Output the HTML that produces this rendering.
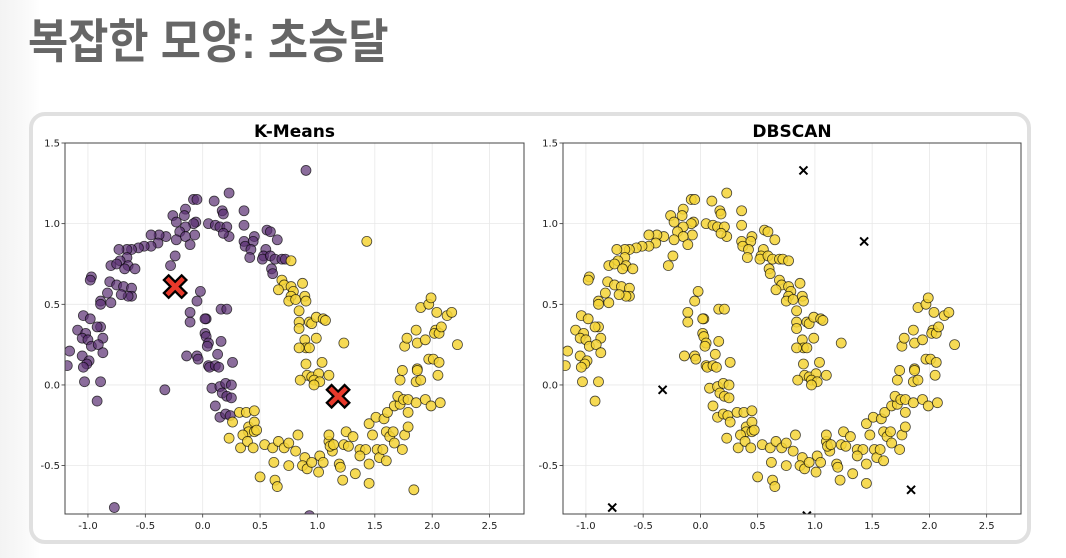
<!DOCTYPE html>
<html><head><meta charset="utf-8"><style>
html,body{margin:0;padding:0;background:#fff;}
body{width:1066px;height:558px;position:relative;overflow:hidden;background:linear-gradient(90deg,#f3f3f3 0,#fafafa 28px,#fff 40px);}
#title{position:absolute;left:28px;top:3px;font:bold 47px "Liberation Sans","Noto Sans CJK KR",sans-serif;color:#666;margin:0;white-space:nowrap;transform:scaleX(0.93);transform-origin:0 0;}
#card{position:absolute;left:29px;top:112px;width:994px;height:424px;border:4px solid #e0e0e0;border-radius:16px;background:#fff;}
svg{position:absolute;left:0;top:0;}
</style></head><body>
<h1 id="title">복잡한 모양: 초승달</h1>
<div id="card"></div>
<svg id="chart" width="1066" height="558"></svg>
<script>
const xs=[0.90,0.23,-0.08,-0.05,0.10,-0.15,-0.16,0.17,0.18,0.36,-0.26,-0.23,-0.06,-0.08,0.05,0.11,0.15,0.21,0.36,-0.15,-0.20,-0.07,-0.15,-0.23,0.23,0.18,-0.32,-0.38,-0.45,-0.11,-0.39,-0.45,-0.51,-0.56,-0.62,-0.66,-0.73,0.36,0.45,0.44,0.37,0.42,0.41,0.56,0.59,0.65,0.55,0.53,0.52,0.59,0.63,0.69,0.72,0.60,0.61,-0.24,-0.28,-0.66,-0.72,-0.80,-0.75,-0.65,-0.68,-0.59,-0.97,-0.98,-0.81,-0.75,-0.69,-0.62,-0.62,-0.65,-0.83,-0.71,-0.89,-0.89,-0.80,-1.04,-0.98,-1.09,-1.02,-1.05,-0.89,-0.92,-0.87,-1.00,-0.97,-0.91,-1.16,-1.05,-0.87,-0.99,-1.01,-1.04,-1.18,-1.03,-0.89,-0.92,-0.33,-0.77,
-0.02,-0.05,-0.11,-0.11,0.03,0.02,0.16,0.21,0.02,0.03,0.05,0.04,0.16,-0.14,-0.05,-0.04,0.13,0.05,0.06,0.11,0.14,0.26,0.08,0.15,0.20,0.25,0.17,0.21,0.25,0.11,0.15,0.20,0.24,0.93,
1.43,0.77,0.69,0.71,0.66,0.77,0.79,0.87,0.77,0.75,0.81,0.89,0.90,0.84,0.84,0.84,0.93,0.95,0.99,1.05,1.07,0.89,0.90,0.84,0.93,0.99,1.23,0.90,1.04,0.91,0.95,1.01,1.10,0.85,0.97,1.02,0.97,
0.32,0.38,0.45,0.26,0.40,0.45,0.40,0.45,0.47,0.35,0.23,0.33,0.39,0.44,0.54,0.61,0.66,0.71,0.75,0.81,0.83,0.50,0.63,0.65,0.62,0.75,0.89,0.87,0.91,0.95,1.01,1.02,1.05,1.10,1.13,1.11,1.10,1.14,1.19,1.20,1.22,1.25,1.31,1.23,1.27,1.33,1.37,1.42,1.37,1.45,1.45,1.45,1.48,1.51,1.52,1.54,1.58,1.60,1.57,1.61,1.60,1.63,1.66,1.67,1.67,1.72,1.70,1.75,1.79,1.79,1.74,1.76,1.79,1.84,1.86,1.94,1.99,2.07,
1.72,1.74,1.86,1.90,1.87,1.87,2.05,1.97,2.01,2.06,1.76,1.78,1.86,1.87,1.94,2.03,2.02,2.06,2.08,2.22,1.90,1.97,1.99,2.04,2.13,2.17];
const ys=[1.33,1.19,1.15,1.15,1.14,1.09,1.05,1.08,1.06,1.08,1.05,1.01,1.01,1.00,1.00,0.99,0.98,0.98,0.99,0.98,0.95,0.93,0.92,0.90,0.92,0.94,0.92,0.93,0.93,0.87,0.88,0.86,0.86,0.85,0.84,0.84,0.84,0.89,0.92,0.89,0.86,0.84,0.79,0.96,0.95,0.90,0.84,0.80,0.78,0.80,0.78,0.78,0.78,0.72,0.69,0.80,0.74,0.79,0.77,0.74,0.75,0.74,0.72,0.72,0.67,0.65,0.64,0.62,0.61,0.60,0.55,0.55,0.57,0.56,0.52,0.50,0.51,0.43,0.41,0.34,0.32,0.29,0.36,0.36,0.29,0.28,0.24,0.25,0.21,0.18,0.20,0.15,0.13,0.11,0.12,0.02,0.02,-0.10,-0.03,-0.76,
0.58,0.52,0.45,0.39,0.41,0.41,0.47,0.47,0.32,0.30,0.26,0.24,0.27,0.18,0.18,0.16,0.19,0.12,0.11,0.12,0.11,0.14,-0.02,-0.01,0.01,0.00,-0.05,-0.07,-0.08,-0.13,-0.20,-0.18,-0.19,-0.81,
0.89,0.77,0.65,0.62,0.59,0.61,0.58,0.63,0.55,0.52,0.53,0.55,0.52,0.46,0.39,0.35,0.39,0.38,0.42,0.41,0.40,0.28,0.23,0.23,0.23,0.29,0.26,0.13,0.14,0.06,0.05,0.07,0.06,0.03,0.03,0.02,0.00,
-0.17,-0.17,-0.16,-0.23,-0.26,-0.23,-0.29,-0.29,-0.28,-0.31,-0.33,-0.39,-0.35,-0.39,-0.37,-0.39,-0.35,-0.39,-0.36,-0.41,-0.31,-0.57,-0.59,-0.63,-0.48,-0.50,-0.45,-0.50,-0.52,-0.48,-0.54,-0.44,-0.48,-0.35,-0.41,-0.38,-0.31,-0.37,-0.49,-0.51,-0.59,-0.29,-0.32,-0.37,-0.38,-0.55,-0.40,-0.40,-0.44,-0.49,-0.61,-0.24,-0.31,-0.20,-0.40,-0.45,-0.21,-0.47,-0.40,-0.17,-0.29,-0.32,-0.29,-0.36,-0.13,-0.12,-0.07,-0.09,-0.09,-0.17,-0.40,-0.31,-0.26,-0.65,-0.11,-0.09,-0.13,-0.11,
0.03,0.09,0.02,0.03,0.10,0.09,0.06,0.16,0.16,0.14,0.24,0.29,0.34,0.26,0.28,0.34,0.32,0.32,0.36,0.25,0.48,0.50,0.54,0.45,0.43,0.45];
// k-means labels: first 134 points cluster 0 (purple), remainder cluster 1 (yellow)
const kmLabels=xs.map((_,i)=>i<134?0:1);
// DBSCAN noise point indices (drawn as black x)
const noiseIdx=[0,98,99,133,134,244];
const centX=[-0.24,1.18];
const centY=[0.61,-0.07];
const xTicks=[-1.0,-0.5,0.0,0.5,1.0,1.5,2.0,2.5];
const yTicks=[1.5,1.0,0.5,0.0,-0.5];
const xDomain=[-1.2,2.8], yDomain=[-0.8,1.5];

const NS="http://www.w3.org/2000/svg";
const svg=document.getElementById('chart');
function mk(tag,attrs,parent){const e=document.createElementNS(NS,tag);for(const k in attrs)e.setAttribute(k,attrs[k]);(parent||svg).appendChild(e);return e;}
const panels=[{left:65,right:524,title:'K-Means',name:'kmeans'},{left:563,right:1021,title:'DBSCAN',name:'dbscan'}];
const plotTop=143,plotBottom=514;
panels.forEach((p,pi)=>{
  const sx=v=>p.left+(v-xDomain[0])/(xDomain[1]-xDomain[0])*(p.right-p.left);
  const sy=v=>plotBottom-(v-yDomain[0])/(yDomain[1]-yDomain[0])*(plotBottom-plotTop);
  const g=mk('g',{});
  
  
  const cid='clip'+pi;
  const cp=mk('clipPath',{id:cid},g);mk('rect',{x:p.left,y:plotTop,width:p.right-p.left,height:plotBottom-plotTop},cp);
  xTicks.forEach(t=>{
    const l=mk('line',{x1:sx(t),x2:sx(t),y1:plotTop,y2:plotBottom,stroke:'#e8e8e8','stroke-width':0.8},g);
    
    
    mk('line',{x1:sx(t),x2:sx(t),y1:plotBottom,y2:plotBottom+3.5,stroke:'#333','stroke-width':0.8},g);
    const tx=mk('text',{x:sx(t),y:plotBottom+15,'text-anchor':'middle','font-size':'10','font-family':'DejaVu Sans, sans-serif',fill:'#222'},g);
    tx.textContent=t.toFixed(1);
    
    
  });
  yTicks.forEach(t=>{
    const l=mk('line',{x1:p.left,x2:p.right,y1:sy(t),y2:sy(t),stroke:'#e8e8e8','stroke-width':0.8},g);
    
    
    mk('line',{x1:p.left-3.5,x2:p.left,y1:sy(t),y2:sy(t),stroke:'#333','stroke-width':0.8},g);
    const tx=mk('text',{x:p.left-5,y:sy(t)+3.5,'text-anchor':'end','font-size':'10','font-family':'DejaVu Sans, sans-serif',fill:'#222'},g);
    tx.textContent=t.toFixed(1);
    
    
  });
  const pts=mk('g',{'clip-path':'url(#'+cid+')'},g);
  xs.forEach((x,i)=>{
    const noise=pi===1&&noiseIdx.includes(i);
    if(noise){
      const cx=sx(x),cy=sy(ys[i]),d=4;
      const m=mk('path',{d:`M${cx-d},${cy-d}L${cx+d},${cy+d}M${cx-d},${cy+d}L${cx+d},${cy-d}`,stroke:'#000','stroke-width':2},pts);
      
      
    } else {
      const lab=pi===0?kmLabels[i]:1;
      const c=mk('circle',{cx:sx(x),cy:sy(ys[i]),r:5,fill:lab===0?'#5a2f72':'#f5d436','fill-opacity':lab===0?0.7:0.85,stroke:'#000','stroke-opacity':0.7,'stroke-width':0.8},pts);
      
      
    }
  });
  if(pi===0){
    centX.forEach((cx0,k)=>{
      const cx=sx(cx0),cy=sy(centY[k]),d=6.5;
      const dpath=`M${cx-d},${cy-d}L${cx+d},${cy+d}M${cx-d},${cy+d}L${cx+d},${cy-d}`;
      mk('path',{d:dpath,stroke:'#000','stroke-width':9,'stroke-linecap':'square'},g);
      const m=mk('path',{d:dpath,stroke:'#e8392b','stroke-width':4.5,'stroke-linecap':'square'},g);
      
      
    });
  }
  const fr=mk('rect',{x:p.left,y:plotTop,width:p.right-p.left,height:plotBottom-plotTop,fill:'none',stroke:'#444','stroke-width':1},g);
  
  
  const tt=mk('text',{x:(p.left+p.right)/2,y:plotTop-6,'text-anchor':'middle','font-size':'17','font-weight':'bold','font-family':'DejaVu Sans, sans-serif',fill:'#000'},g);
  tt.textContent=p.title;
  
  
});
</script>
</body></html>
